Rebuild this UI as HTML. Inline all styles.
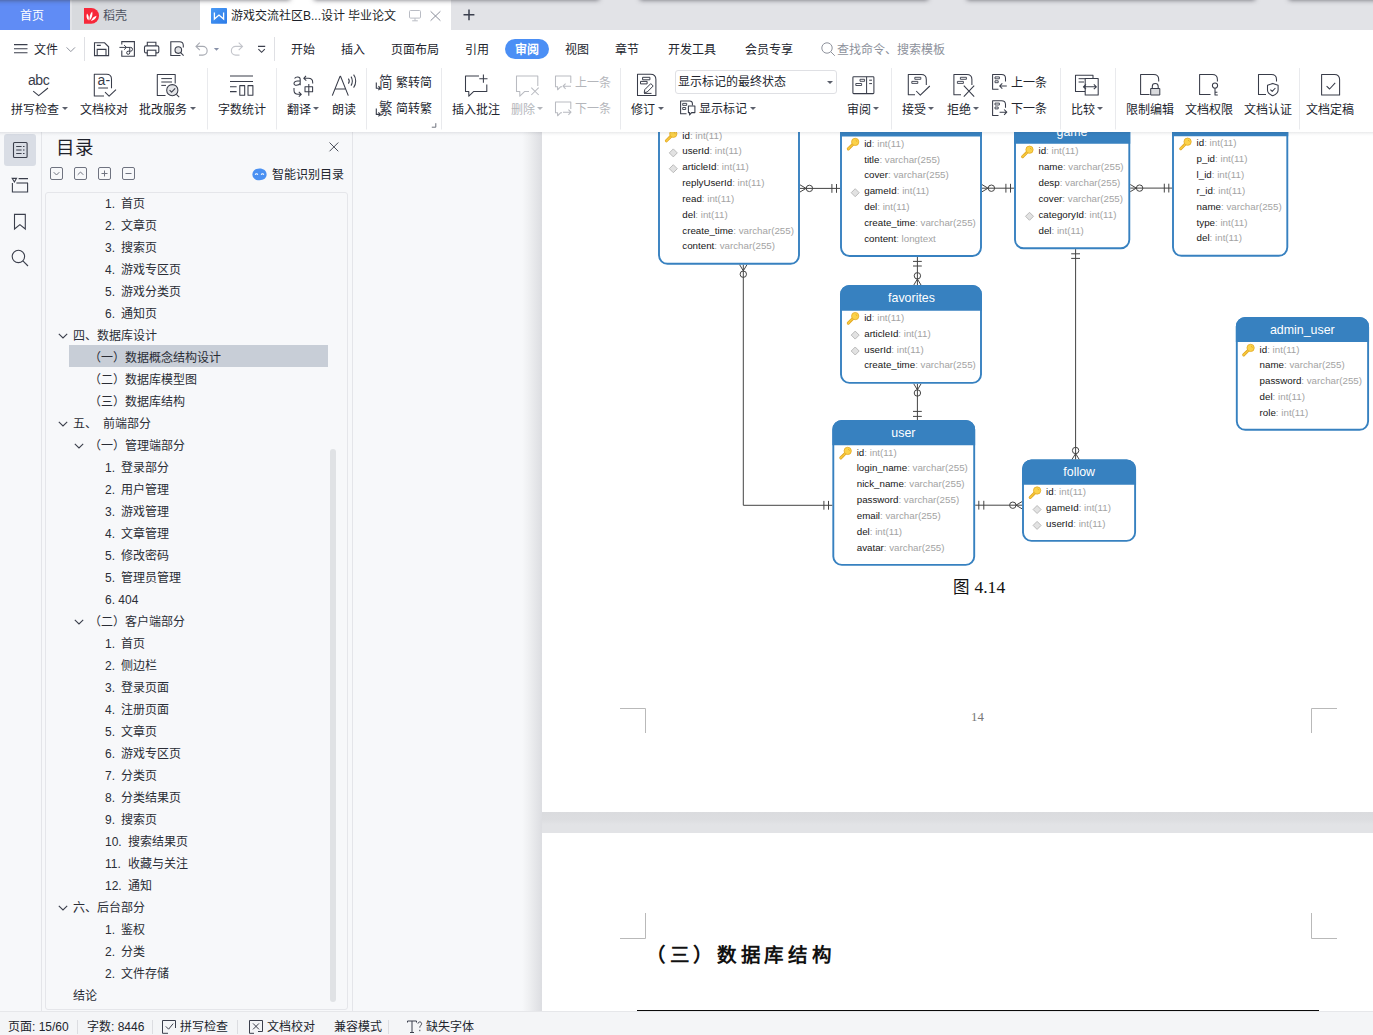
<!DOCTYPE html>
<html lang="zh-CN">
<head>
<meta charset="utf-8">
<title>WPS</title>
<style>
*{box-sizing:border-box;margin:0;padding:0}
html,body{width:1373px;height:1035px;overflow:hidden;background:#f7f8fa;font-family:"Liberation Sans",sans-serif;font-size:12px;color:#1e2330}
.abs{position:absolute}
svg{position:absolute;overflow:visible}
.t{position:absolute;white-space:nowrap;line-height:16px;font-size:12px;color:#22252e}
/* ---------- tab bar ---------- */
#tabbar{position:absolute;left:0;top:0;width:1373px;height:30px;background:#e2e3e7;overflow:hidden}
.shd{position:absolute;top:-12px;height:10px;background:#000;box-shadow:0 0 5px 2px rgba(60,60,70,.75)}
#tab-home{position:absolute;left:0;top:0;width:70px;height:30px;background:#608cf5;color:#fff;padding-right:6px;text-align:center;line-height:32px;font-size:12px}
#tab-dk{position:absolute;left:72px;top:0;width:128px;height:30px;background:#d8dade}
#tab-doc{position:absolute;left:200px;top:0;width:251px;height:30px;background:#fff}
/* ---------- menu + ribbon ---------- */
#menubar{position:absolute;left:0;top:30px;width:1373px;height:36px;background:#fff}
#ribbon{position:absolute;left:0;top:66px;width:1373px;height:66px;background:#fff}
#ribshadow{position:absolute;left:0;top:132px;width:1373px;height:4px;background:linear-gradient(rgba(40,45,60,.10),rgba(40,45,60,.03) 50%,rgba(40,45,60,0));z-index:50}
.vsep{position:absolute;width:1px;background:#e6e7ea}
.mi{position:absolute;top:12px;font-size:12px;line-height:16px;color:#22252e;white-space:nowrap}
.rl{position:absolute;font-size:12px;line-height:16px;color:#22252e;white-space:nowrap}
.dis{color:#b4b6bb}
.c{width:80px;text-align:center}
.dd{position:absolute;width:0;height:0;border-left:3px solid transparent;border-right:3px solid transparent;border-top:3px solid #5b5f6b}
/* ---------- sidebar ---------- */
#iconstrip{position:absolute;left:0;top:132px;width:41px;height:879px;background:#f7f8fa}
#toc{position:absolute;left:41px;top:132px;width:312px;height:879px;background:#f7f8fa;border-left:1px solid #e4e5e9;border-right:1px solid #e4e5e9}
#tocbox{position:absolute;left:45px;top:192px;width:303px;height:818px;border:1px solid #e5e6ea;border-radius:3px;background:#f7f8fa}
.ti{position:absolute;font-size:12px;line-height:16px;color:#2a2d36;white-space:nowrap}
/* ---------- document ---------- */
#docbg{position:absolute;left:354px;top:132px;width:1019px;height:879px;background:#f7f8fa}
#pgshadow{position:absolute;left:522px;top:132px;width:20px;height:879px;background:linear-gradient(90deg,#f7f8fa,#f0f1f3 30%,#e6e7ea 65%,#dcdde1)}
#page1{position:absolute;left:542px;top:132px;width:831px;height:680px;background:#fff}
#gap{position:absolute;left:542px;top:812px;width:831px;height:21px;background:linear-gradient(#dadbde,#dcdde0 35%,#e2e3e6 60%,#e2e3e6)}
#page2{position:absolute;left:542px;top:833px;width:831px;height:178px;background:#fff}
/* ---------- status ---------- */
#status{position:absolute;left:0;top:1011px;width:1373px;height:24px;background:#f4f5f7;border-top:1px solid #e6e7ea}
.st{position:absolute;top:7px;font-size:12px;line-height:16px;color:#22252e;white-space:nowrap}
/* ---------- ER diagram ---------- */
.f{position:absolute;font-size:9.75px;line-height:12px;white-space:nowrap;color:#161616;-webkit-text-stroke:0.05px #161616}
.tt{position:absolute;width:100px;text-align:center;font-size:12.4px;line-height:16px;color:#fff;white-space:nowrap}
.f i{font-style:normal;color:#a3a3a3;-webkit-text-stroke:0}
</style>
</head>
<body>
<!-- TAB BAR -->
<div id="tabbar">
  <div id="tab-home">首页</div>
  <div id="tab-dk">
    <svg style="left:12px;top:8px" width="15" height="16" viewBox="0 0 15 16"><path d="M0,0H7.2A7.85,7.85 0 0 1 7.2,15.7H0Z" fill="#f7283a"/><path d="M4.4,12.4C2.2,10.4 2.2,7.6 3,5.6C4.8,7.4 5.4,10 4.4,12.4ZM5.6,12.6C5,9 6.2,5.8 8.2,3.6C9,6.6 8,10.4 5.6,12.6ZM7,13C8,10.4 10,8.4 12.6,7.8C12,10.6 9.8,12.6 7,13Z" fill="#fff"/></svg>
    <div class="t" style="left:31px;top:8px;color:#4d5260">稻壳</div>
  </div>
  <div id="tab-doc">
    <svg style="left:11px;top:8px" width="16" height="16" viewBox="0 0 16 16"><defs><linearGradient id="wg" x1="0" y1="0" x2="1" y2="1"><stop offset="0" stop-color="#4a9af5"/><stop offset="1" stop-color="#2c7be8"/></linearGradient></defs><rect x="0" y="0" width="16" height="15.8" rx="0.8" fill="url(#wg)"/><path d="M3.4,4.4V11L8,7L12.6,11V4.4" fill="none" stroke="#fff" stroke-width="1.3" stroke-linejoin="miter"/></svg>
    <div class="t" style="left:31px;top:8px;color:#1c1f28">游戏交流社区B...设计 毕业论文</div>
    <svg style="left:209px;top:10px" width="12" height="12" viewBox="0 0 12 12"><rect x="0.5" y="0.5" width="11" height="7.6" rx="1" fill="none" stroke="#b9bcc4" stroke-width="1"/><path d="M6,8.2V10.6M3.2,10.8H8.8" stroke="#b9bcc4" stroke-width="1" fill="none"/></svg>
    <svg style="left:230px;top:11px" width="11" height="10" viewBox="0 0 11 10"><path d="M0.6,0.3L10.4,9.7M10.4,0.3L0.6,9.7" stroke="#8b8f9b" stroke-width="1" fill="none"/></svg>
  </div>
  <svg style="left:463px;top:9px" width="12" height="12" viewBox="0 0 12 12"><path d="M6,0.4V11.2M0.5,5.8H11.4" stroke="#3a3f4e" stroke-width="1.5" fill="none"/></svg>
  <div class="shd" style="left:-10px;width:298px"></div>
  <div class="shd" style="left:316px;width:281px"></div>
  <div class="shd" style="left:642px;width:284px"></div>
  <div class="shd" style="left:969px;width:284px"></div>
  <div class="shd" style="left:1291px;width:100px"></div>
</div>
<div id="menubar">
  <svg style="left:0;top:0" width="290" height="36" viewBox="0 30 290 36" fill="none" stroke="#3b3f4c" stroke-width="1.1">
    <path d="M14,44.6H27.5M14,48.7H27.5M14,52.8H27.5" stroke-width="1.1"/>
    <path d="M66.6,47.4L70.8,51.6L75,47.4" stroke="#8e929c" stroke-width="1"/>
    <path d="M84.5,37V61M274.5,37V61" stroke="#dfe0e4" stroke-width="1"/>
    <!-- save -->
    <path d="M94.5,42.8H104.6L108.6,46.8V55.6H94.5Z"/><path d="M96.8,45.4H100.8M97.2,55.6V49.4H106V55.6"/>
    <!-- export -->
    <path d="M121.8,44.6V41.6H134.4V56.3H121.8V50.4"/><path d="M119.4,47.4H126.4M124.1,45.1L126.5,47.4L124.1,49.7" stroke-width="1"/><path d="M126.4,47.4H130.6A1.9,1.9 0 0 1 130.6,51.2H128.2A1.55,1.55 0 1 0 129.75,52.75V47.4" stroke-width="1"/>
    <!-- print -->
    <path d="M147.3,45.8V42.3H155.9V45.8"/><rect x="144.5" y="45.9" width="14.3" height="7" rx="1.4"/><rect x="147.3" y="50.2" width="8.6" height="5.5" fill="#fff"/>
    <!-- preview -->
    <path d="M180.5,55.5H170.8V41.7H179.5C181.8,41.7 183.3,43.2 183.3,45.5V47.5"/><circle cx="178.3" cy="50.1" r="3.3" fill="#e3e4e7"/><path d="M180.7,52.6L183.6,55.6"/>
    <!-- undo / redo -->
    <path d="M199.8,42.6L196,46.4L199.8,50.2M196.2,46.4H202.8A4.35,4.35 0 0 1 202.8,55.1H199" stroke="#a7aab2"/>
    <path d="M213.9,47.9H219.1L216.5,50.7Z" fill="#8790a8" stroke="none"/>
    <path d="M238.7,42.6L242.5,46.4L238.7,50.2M242.3,46.4H235.7A4.35,4.35 0 0 0 235.7,55.1H239.5" stroke="#c3c5cb"/>
    <!-- customize -->
    <path d="M258,46.4H265.2M258.4,49.1L261.6,52.3L264.8,49.1" stroke-width="1.1"/>
  </svg>
  <div class="mi c" style="left:6px">文件</div>
  <div class="mi c" style="left:263px">开始</div>
  <div class="mi c" style="left:313px">插入</div>
  <div class="mi c" style="left:375px">页面布局</div>
  <div class="mi c" style="left:437px">引用</div>
  <div class="abs" style="left:505px;top:9px;width:44px;height:20px;border-radius:10px;background:#4b8ff5"></div>
  <div class="mi c" style="left:487px;color:#fff;font-weight:bold">审阅</div>
  <div class="mi c" style="left:537px">视图</div>
  <div class="mi c" style="left:587px">章节</div>
  <div class="mi c" style="left:652px">开发工具</div>
  <div class="mi c" style="left:729px">会员专享</div>
  <svg style="left:821px;top:12px" width="15" height="15" viewBox="0 0 15 15"><circle cx="6" cy="6" r="5.2" fill="none" stroke="#8f939d" stroke-width="1"/><path d="M9.8,9.8L13.8,13.8" stroke="#8f939d" stroke-width="1"/></svg>
  <div class="mi" style="left:837px;color:#8d919b">查找命令、搜索模板</div>
</div>
<div id="ribbon">
  <svg style="left:0;top:0" width="1373" height="65" viewBox="0 66 1373 65" fill="none" stroke="#383c49" stroke-width="1.05" stroke-linejoin="round">
    <g stroke="#e9eaed" stroke-width="1">
      <path d="M207.5,68V129.5M276.5,68V129.5M366.5,68V129.5M441.5,68V129.5M620.5,68V129.5M891.5,68V129.5M1060.5,68V129.5M1115.5,68V129.5M1299.5,68V129.5"/>
    </g>
    <!-- spell check -->
    <path d="M33.2,91.2L38.7,95.7L48,88"/>
    <!-- doc proof -->
    <path d="M104,96H94.3V74.3H106.5C109.8,74.3 111.5,76.5 111.5,79.3V88.3"/><path d="M98.3,88H108" stroke-width="1"/><path d="M105,92.2L109.1,96.2L116,89.6"/>
    <!-- batch service -->
    <path d="M165.5,95.5H157.3V74.5H175.2V83.4"/><path d="M161.3,78.6H172M161.3,82H172M161.3,85.4H166" stroke-width="1"/><circle cx="172.3" cy="90.2" r="5.6" fill="#e4e5e8"/><path d="M169.6,90.2L171.6,92.2L175.2,88.3M176.4,94.3L179.2,97.1"/>
    <!-- word count -->
    <path d="M230,75.9H253M230,81.5H253M230,86.7H236.6M230,91.6H236.6"/><rect x="239.8" y="85.6" width="4.9" height="9.6"/><rect x="248" y="85.6" width="4.9" height="9.6"/>
    <!-- translate -->
    <path d="M294.6,78.4C295.6,76.6 300.2,76 300.2,79.6V85.2M300.2,80.8C297.5,80.8 294,81.3 294,83.4C294,86 298.6,85.8 300.2,83.2"/>
    <path d="M305,86.7H312.6V91.7H305ZM308.8,84V95.8"/>
    <path d="M306,75.8L303.8,78.3L306.3,80.6M304,78.3H308.5C311,78.3 312.7,80.1 312.7,82.4V83.4"/>
    <path d="M294,88V90.3C294,92.6 295.7,94.3 298.2,94.3H301.2M298.8,91.9L301.3,94.3L298.8,96.7"/>
    <!-- read aloud -->
    <path d="M332.3,95.6L340,76.4H340.6L348.3,95.6M335,89H345.6" stroke-width="1.1"/>
    <path d="M348.4,78.6C349.4,80 349.4,82.2 348.4,83.6M351,76.6C352.8,79 352.8,83.2 351,85.6M353.6,74.6C356.4,78 356.4,84.2 353.6,87.6"/>
    <!-- trad/simp arrows -->
    <path d="M376.3,82.4V88.2H380.2M378.4,86.2L380.4,88.2L378.4,90.2M376.3,108.6V114.4H380.2M378.4,112.4L380.4,114.4L378.4,116.4" stroke-width="1.1"/>
    <path d="M431.8,127.2H435.8V123.2" stroke="#6d717c" stroke-width="1"/>
    <!-- insert comment -->
    <path d="M479,75.9H465.5V91.4H468.8V96.2L473.8,91.4H486.8V84.6"/><path d="M483.4,74.6V82.8M479.3,78.7H487.5"/>
    <!-- delete comment (disabled) -->
    <g stroke="#b9bbc1"><path d="M537.8,86V75.9H516.5V91.4H519.8V96.2L524.8,91.4H529"/><path d="M531.3,87.6L538.7,95M538.7,87.6L531.3,95"/></g>
    <!-- prev/next comment (disabled) -->
    <g stroke="#b9bbc1"><path d="M570.8,83V75.9H555.5V86.8H557.6V89.8L560.5,86.8H562"/><path d="M571,86.2H563M565.6,83.6L563,86.2L565.6,88.8"/>
    <path d="M570.8,109V101.9H555.5V112.8H557.6V115.8L560.5,112.8H562"/><path d="M563,112.2H571M568.4,109.6L571,112.2L568.4,114.8"/></g>
    <!-- track changes -->
    <path d="M637.5,74.3H650.5C654,74.3 655.9,76.6 655.9,79.6V95.4H637.5Z"/><rect x="642.6" y="77.3" width="7.3" height="2.5" stroke-width="1"/><rect x="640.5" y="81.4" width="6.6" height="2.5" stroke-width="1"/><path d="M644.2,92.6L644.8,89.6L650.8,83.6L653.2,86L647.2,92Z" stroke-width="1"/><path d="M644,93.4H651.5" stroke-width="1"/>
    <!-- show markup -->
    <path d="M686.5,113.8H680.6V101H689.6C691.4,101 692.4,102 692.4,103.6V105.4"/><rect x="682.7" y="103.4" width="4" height="2" stroke-width="0.9"/><rect x="682.7" y="107.5" width="3" height="2" stroke-width="0.9"/><path d="M688.4,105.9H694.9V112.6H691.6L689.6,115V112.6H688.4Z"/>
    <!-- review pane -->
    <rect x="852.9" y="76.8" width="21" height="16.8" rx="0.8"/><path d="M866.6,76.8V93.6M869.2,80.2H872M869.2,83.6H872" stroke-width="1"/><rect x="860" y="79.3" width="4.6" height="2" stroke-width="0.9"/><rect x="855.8" y="83.5" width="5.8" height="2" stroke-width="0.9"/>
    <!-- accept -->
    <path d="M915,94.8H908.3V74.4H921.2C924.6,74.4 926.3,76.5 926.3,79.4V85"/><rect x="914.8" y="77.3" width="6" height="2" stroke-width="0.9"/><rect x="911.8" y="81.4" width="6" height="2" stroke-width="0.9"/><path d="M916.2,91L920.3,95.1L929.8,86"/>
    <!-- reject -->
    <path d="M961,94.8H953.9V74.4H966.8C970.2,74.4 971.9,76.5 971.9,79.4V85"/><rect x="960.4" y="77.3" width="6" height="2" stroke-width="0.9"/><rect x="957.4" y="81.4" width="6" height="2" stroke-width="0.9"/><path d="M963.8,85.6L974.2,96.6M974.2,85.6L963.8,96.6"/>
    <!-- prev / next change -->
    <path d="M998.5,89.3H992.6V74.5H1001.5C1004,74.5 1005.5,76 1005.5,78.3V81.6"/><rect x="995" y="76.9" width="4.4" height="1.9" stroke-width="0.9"/><rect x="995" y="80.8" width="3.2" height="1.9" stroke-width="0.9"/><path d="M1006.8,86H999.6M1002.3,83.3L999.6,86L1002.3,88.7"/>
    <path d="M998.5,115.5H992.6V100.7H1001.5C1004,100.7 1005.5,102.2 1005.5,104.5V107.8"/><rect x="995" y="103.1" width="4.4" height="1.9" stroke-width="0.9"/><rect x="995" y="107" width="3.2" height="1.9" stroke-width="0.9"/><path d="M999.6,112.2H1006.8M1004.1,109.5L1006.8,112.2L1004.1,114.9"/>
    <!-- compare -->
    <path d="M1085.2,91.4H1075.5V75.3H1093V78.3"/><path d="M1078.6,78.7H1087.2M1078.6,82H1084" stroke-width="1"/><rect x="1085.2" y="78.4" width="13" height="16.5" fill="#fff"/><path d="M1083.6,86.8H1096.2M1086,84.4L1083.4,86.8L1086,89.2M1093.8,84.4L1096.4,86.8L1093.8,89.2"/>
    <!-- restrict edit -->
    <path d="M1149.5,94.4H1140.6V74.4H1153.6C1157,74.4 1158.7,76.5 1158.7,79.4V81.6"/><path d="M1152.3,88.4V86.4C1152.3,82.6 1158.2,82.6 1158.2,86.4V88.4"/><rect x="1150.7" y="88.5" width="9.1" height="6.5" fill="#d9dadd" stroke-width="1"/>
    <!-- doc permission -->
    <path d="M1210.5,94.4H1199.6V74.4H1212.3C1215.7,74.4 1217.4,76.5 1217.4,79.4V81.6"/><circle cx="1215" cy="85.6" r="2.6"/><path d="M1215,88.2V95H1217.8M1215,92.3H1217.4"/>
    <!-- doc certify -->
    <path d="M1266,94.4H1258.5V74.4H1271.4C1274.8,74.4 1276.5,76.5 1276.5,79.4V81.6"/><path d="M1272.8,83.4L1278.1,85.3V90C1278.1,92.8 1275.8,94.6 1272.8,95.8C1269.8,94.6 1267.5,92.8 1267.5,90V85.3Z" fill="#fff"/><path d="M1270.4,89.6L1272.2,91.4L1275.4,88"/>
    <!-- finalize -->
    <path d="M1321.6,74.4H1334.4C1337.8,74.4 1339.6,76.6 1339.6,79.6V94.9H1321.6Z"/><path d="M1326.6,86.1L1329.6,89L1335.2,82.9"/>
  </svg>
  <!-- text inside icons -->
  <div class="abs" style="left:28px;top:6px;font-size:14px;line-height:16px;color:#383c49;letter-spacing:-0.45px">abc</div>
  <div class="abs" style="left:97.5px;top:6px;font-size:14px;line-height:16px;color:#383c49;letter-spacing:0.3px">a-</div>
  <div class="abs" style="left:378.6px;top:9px;font-size:13.4px;line-height:14px;color:#383c49;transform:scale(1,1.2);transform-origin:0 0">简</div>
  <div class="abs" style="left:378.6px;top:35px;font-size:13.4px;line-height:14px;color:#383c49;transform:scale(1,1.2);transform-origin:0 0">繁</div>
  <!-- labels -->
  <div class="rl c" style="left:-5px;top:36px">拼写检查</div><div class="dd" style="left:62px;top:41px"></div>
  <div class="rl c" style="left:64px;top:36px">文档校对</div>
  <div class="rl c" style="left:123px;top:36px">批改服务</div><div class="dd" style="left:190px;top:41px"></div>
  <div class="rl c" style="left:202px;top:36px">字数统计</div>
  <div class="rl c" style="left:259px;top:36px">翻译</div><div class="dd" style="left:313px;top:41px"></div>
  <div class="rl c" style="left:304px;top:36px">朗读</div>
  <div class="rl" style="left:396px;top:9px">繁转简</div>
  <div class="rl" style="left:396px;top:35px">简转繁</div>
  <div class="rl c" style="left:436px;top:36px">插入批注</div>
  <div class="rl dis c" style="left:483px;top:36px">删除</div><div class="dd" style="left:537px;top:41px;border-top-color:#b4b6bb"></div>
  <div class="rl dis" style="left:575px;top:9px">上一条</div>
  <div class="rl dis" style="left:575px;top:35px">下一条</div>
  <div class="rl c" style="left:603px;top:36px">修订</div><div class="dd" style="left:658px;top:41px"></div>
  <div class="abs" style="left:675px;top:4px;width:162px;height:24px;border:1px solid #dfe0e4;border-radius:3px;background:#fff"></div>
  <div class="rl" style="left:678px;top:8px">显示标记的最终状态</div><div class="dd" style="left:827px;top:15px"></div>
  <div class="rl" style="left:699px;top:35px">显示标记</div><div class="dd" style="left:750px;top:41px"></div>
  <div class="rl c" style="left:819px;top:36px">审阅</div><div class="dd" style="left:873px;top:41px"></div>
  <div class="rl c" style="left:874px;top:36px">接受</div><div class="dd" style="left:928px;top:41px"></div>
  <div class="rl c" style="left:919px;top:36px">拒绝</div><div class="dd" style="left:973px;top:41px"></div>
  <div class="rl" style="left:1011px;top:9px">上一条</div>
  <div class="rl" style="left:1011px;top:35px">下一条</div>
  <div class="rl c" style="left:1043px;top:36px">比较</div><div class="dd" style="left:1097px;top:41px"></div>
  <div class="rl c" style="left:1110px;top:36px">限制编辑</div>
  <div class="rl c" style="left:1169px;top:36px">文档权限</div>
  <div class="rl c" style="left:1228px;top:36px">文档认证</div>
  <div class="rl c" style="left:1290px;top:36px">文档定稿</div>
</div>
<!-- SIDEBAR -->
<div id="iconstrip"></div>
<div id="toc"></div>
<div id="tocbox"></div>
<div class="abs" style="left:4px;top:134px;width:32px;height:32px;border-radius:3px;background:#d9dde5"></div>
<svg style="left:0;top:132px" width="42" height="150" viewBox="0 132 42 150" fill="none" stroke="#3b3f4c" stroke-width="1.1">
  <rect x="13.5" y="142.5" width="13.6" height="15" rx="1"/><path d="M16.2,146.5H21.6M23,146.5H24.5M16.2,150H21.6M23,150H24.5M16.2,153.5H21.6M23,153.5H24.5" stroke-width="1"/>
  <path d="M12.4,183V192H27.6V183M12.2,178.4H16.5L14.4,182ZM18.6,178.6H28"/><path d="M16.4,183H28" />
  <path d="M14.5,214.4H25.3V229L19.9,224.6L14.5,229Z"/>
  <circle cx="18.4" cy="256.4" r="6.2"/><path d="M22.9,260.9L28,266"/>
</svg>
<div class="abs" style="left:56px;top:135px;font-size:18.5px;line-height:26px;color:#1f222b">目录</div>
<svg style="left:329px;top:142px" width="10" height="10" viewBox="0 0 10 10"><path d="M0.5,0.5L9.3,9.3M9.3,0.5L0.5,9.3" stroke="#4a4e5a" stroke-width="1" fill="none"/></svg>
<svg style="left:49px;top:167px" width="90" height="14" viewBox="49 167 90 14" fill="none" stroke="#6f7380" stroke-width="1">
  <rect x="50.5" y="167.5" width="12" height="12" rx="1.5"/><path d="M53.7,172.2L56.5,175L59.3,172.2"/>
  <rect x="74.5" y="167.5" width="12" height="12" rx="1.5"/><path d="M77.7,174.8L80.5,172L83.3,174.8"/>
  <rect x="98.5" y="167.5" width="12" height="12" rx="1.5"/><path d="M101.5,173.5H107.5M104.5,170.5V176.5"/>
  <rect x="122.5" y="167.5" width="12" height="12" rx="1.5"/><path d="M125.5,173.5H131.5"/>
</svg>
<svg style="left:252px;top:168px" width="15" height="13" viewBox="0 0 15 13"><path d="M7.5,0.6C11.6,0.6 14.6,2.8 14.6,6.6C14.6,10 11.8,12.3 7.5,12.3C3.2,12.3 0.4,10 0.4,6.6C0.4,2.8 3.4,0.6 7.5,0.6Z" fill="#4a90f2"/><path d="M3.2,6.8C3.7,5.4 5.3,5.4 5.8,6.8M9.2,6.8C9.7,5.4 11.3,5.4 11.8,6.8" stroke="#fff" stroke-width="1.1" fill="none"/></svg>
<div class="ti" style="left:272px;top:167px;color:#22252e">智能识别目录</div>
<div class="abs" style="left:69px;top:345px;width:259px;height:22px;background:#c8ced7"></div>
<div class="abs" style="left:329.5px;top:449px;width:6.5px;height:553px;border-radius:3.5px;background:#e0e2e5"></div>
<div class="ti" style="left:105px;top:196px">1.</div>
<div class="ti" style="left:121.2px;top:196px">首页</div>
<div class="ti" style="left:105px;top:218px">2.</div>
<div class="ti" style="left:121.2px;top:218px">文章页</div>
<div class="ti" style="left:105px;top:240px">3.</div>
<div class="ti" style="left:121.2px;top:240px">搜索页</div>
<div class="ti" style="left:105px;top:262px">4.</div>
<div class="ti" style="left:121.2px;top:262px">游戏专区页</div>
<div class="ti" style="left:105px;top:284px">5.</div>
<div class="ti" style="left:121.2px;top:284px">游戏分类页</div>
<div class="ti" style="left:105px;top:306px">6.</div>
<div class="ti" style="left:121.2px;top:306px">通知页</div>
<div class="ti" style="left:73px;top:328px">四、数据库设计</div>
<div class="ti" style="left:89px;top:350px">（一）数据概念结构设计</div>
<div class="ti" style="left:89px;top:372px">（二）数据库模型图</div>
<div class="ti" style="left:89px;top:394px">（三）数据库结构</div>
<div class="ti" style="left:73px;top:416px">五、</div>
<div class="ti" style="left:103px;top:416px">前端部分</div>
<div class="ti" style="left:89px;top:438px">（一）管理端部分</div>
<div class="ti" style="left:105px;top:460px">1.</div>
<div class="ti" style="left:121.2px;top:460px">登录部分</div>
<div class="ti" style="left:105px;top:482px">2.</div>
<div class="ti" style="left:121.2px;top:482px">用户管理</div>
<div class="ti" style="left:105px;top:504px">3.</div>
<div class="ti" style="left:121.2px;top:504px">游戏管理</div>
<div class="ti" style="left:105px;top:526px">4.</div>
<div class="ti" style="left:121.2px;top:526px">文章管理</div>
<div class="ti" style="left:105px;top:548px">5.</div>
<div class="ti" style="left:121.2px;top:548px">修改密码</div>
<div class="ti" style="left:105px;top:570px">5.</div>
<div class="ti" style="left:121.2px;top:570px">管理员管理</div>
<div class="ti" style="left:105px;top:592px">6.</div>
<div class="ti" style="left:118.3px;top:592px">404</div>
<div class="ti" style="left:89px;top:614px">（二）客户端部分</div>
<div class="ti" style="left:105px;top:636px">1.</div>
<div class="ti" style="left:121.2px;top:636px">首页</div>
<div class="ti" style="left:105px;top:658px">2.</div>
<div class="ti" style="left:121.2px;top:658px">侧边栏</div>
<div class="ti" style="left:105px;top:680px">3.</div>
<div class="ti" style="left:121.2px;top:680px">登录页面</div>
<div class="ti" style="left:105px;top:702px">4.</div>
<div class="ti" style="left:121.2px;top:702px">注册页面</div>
<div class="ti" style="left:105px;top:724px">5.</div>
<div class="ti" style="left:121.2px;top:724px">文章页</div>
<div class="ti" style="left:105px;top:746px">6.</div>
<div class="ti" style="left:121.2px;top:746px">游戏专区页</div>
<div class="ti" style="left:105px;top:768px">7.</div>
<div class="ti" style="left:121.2px;top:768px">分类页</div>
<div class="ti" style="left:105px;top:790px">8.</div>
<div class="ti" style="left:121.2px;top:790px">分类结果页</div>
<div class="ti" style="left:105px;top:812px">9.</div>
<div class="ti" style="left:121.2px;top:812px">搜索页</div>
<div class="ti" style="left:105px;top:834px">10.</div>
<div class="ti" style="left:128.4px;top:834px">搜索结果页</div>
<div class="ti" style="left:105px;top:856px">11.</div>
<div class="ti" style="left:128.4px;top:856px">收藏与关注</div>
<div class="ti" style="left:105px;top:878px">12.</div>
<div class="ti" style="left:128.4px;top:878px">通知</div>
<div class="ti" style="left:73px;top:900px">六、后台部分</div>
<div class="ti" style="left:105px;top:922px">1.</div>
<div class="ti" style="left:121.2px;top:922px">鉴权</div>
<div class="ti" style="left:105px;top:944px">2.</div>
<div class="ti" style="left:121.2px;top:944px">分类</div>
<div class="ti" style="left:105px;top:966px">2.</div>
<div class="ti" style="left:121.2px;top:966px">文件存储</div>
<div class="ti" style="left:73px;top:988px">结论</div>
<svg style="left:0;top:0" width="100" height="1035" viewBox="0 0 100 1035"><path d="M58.8,333.8l4.2,4.2l4.2,-4.2M58.8,421.8l4.2,4.2l4.2,-4.2M74.8,443.8l4.2,4.2l4.2,-4.2M74.8,619.8l4.2,4.2l4.2,-4.2M58.8,905.8l4.2,4.2l4.2,-4.2" fill="none" stroke="#3b3f4c" stroke-width="1.1"/></svg>
<!-- DOC -->
<div id="docbg"></div>
<div id="pgshadow"></div>
<div id="page1"></div>
<div id="gap"></div>
<div id="page2"></div>
<div id="erd" class="abs" style="left:542px;top:132px;width:831px;height:680px;overflow:hidden">
<svg style="left:0;top:0" width="831" height="680" viewBox="542 132 831 680"><path d="M667.5,100H790.5A8.5,8.5 0 0 1 799,108.5V255.3A8.5,8.5 0 0 1 790.5,263.8H667.5A8.5,8.5 0 0 1 659,255.3V108.5A8.5,8.5 0 0 1 667.5,100Z" fill="#fff" stroke="#3781c0" stroke-width="1.9"/>
<path d="M658.05,104V108.5A9.45,9.45 0 0 1 667.5,99.05H790.5A9.45,9.45 0 0 1 799.95,108.5V104Z" fill="#3781c0"/>
<g transform="translate(673.3,133.8)"><path d="M-2,2.1L-6.9,7" stroke="#dfa320" stroke-width="3" stroke-linecap="round" fill="none"/><path d="M-2,2.1L-6.9,7" stroke="#f8ca3e" stroke-width="1.7" stroke-linecap="round" fill="none"/><path d="M-5.6,4.6L-4.4,5.8M-4.4,3.4L-3.2,4.6" stroke="#dfa320" stroke-width="0.5" fill="none"/><circle cx="0" cy="0" r="3.65" fill="#fbd24a" stroke="#e2a722" stroke-width="0.75"/><path d="M0.4,-1.7L2,-0.3" stroke="#e2a722" stroke-width="0.8" fill="none"/></g>
<path d="M669.3,152.9L673.3,148.9L677.3,152.9L673.3,156.9Z" fill="#e2e2e2" stroke="#b4b4b4" stroke-width="0.9"/>
<path d="M669.3,168.7L673.3,164.7L677.3,168.7L673.3,172.7Z" fill="#e2e2e2" stroke="#b4b4b4" stroke-width="0.9"/>
<path d="M849.5,100H972.5A8.5,8.5 0 0 1 981,108.5V247.5A8.5,8.5 0 0 1 972.5,256H849.5A8.5,8.5 0 0 1 841,247.5V108.5A8.5,8.5 0 0 1 849.5,100Z" fill="#fff" stroke="#3781c0" stroke-width="1.9"/>
<path d="M840.05,136.4V108.5A9.45,9.45 0 0 1 849.5,99.05H972.5A9.45,9.45 0 0 1 981.95,108.5V136.4Z" fill="#3781c0"/>
<g transform="translate(855.2,141.9)"><path d="M-2,2.1L-6.9,7" stroke="#dfa320" stroke-width="3" stroke-linecap="round" fill="none"/><path d="M-2,2.1L-6.9,7" stroke="#f8ca3e" stroke-width="1.7" stroke-linecap="round" fill="none"/><path d="M-5.6,4.6L-4.4,5.8M-4.4,3.4L-3.2,4.6" stroke="#dfa320" stroke-width="0.5" fill="none"/><circle cx="0" cy="0" r="3.65" fill="#fbd24a" stroke="#e2a722" stroke-width="0.75"/><path d="M0.4,-1.7L2,-0.3" stroke="#e2a722" stroke-width="0.8" fill="none"/></g>
<path d="M851.2,192.7L855.2,188.7L859.2,192.7L855.2,196.7Z" fill="#e2e2e2" stroke="#b4b4b4" stroke-width="0.9"/>
<path d="M1023.5,100H1120.8A8.5,8.5 0 0 1 1129.3,108.5V239.7A8.5,8.5 0 0 1 1120.8,248.2H1023.5A8.5,8.5 0 0 1 1015,239.7V108.5A8.5,8.5 0 0 1 1023.5,100Z" fill="#fff" stroke="#3781c0" stroke-width="1.9"/>
<path d="M1014.05,143.7V108.5A9.45,9.45 0 0 1 1023.5,99.05H1120.8A9.45,9.45 0 0 1 1130.25,108.5V143.7Z" fill="#3781c0"/>
<g transform="translate(1029.5,149.7)"><path d="M-2,2.1L-6.9,7" stroke="#dfa320" stroke-width="3" stroke-linecap="round" fill="none"/><path d="M-2,2.1L-6.9,7" stroke="#f8ca3e" stroke-width="1.7" stroke-linecap="round" fill="none"/><path d="M-5.6,4.6L-4.4,5.8M-4.4,3.4L-3.2,4.6" stroke="#dfa320" stroke-width="0.5" fill="none"/><circle cx="0" cy="0" r="3.65" fill="#fbd24a" stroke="#e2a722" stroke-width="0.75"/><path d="M0.4,-1.7L2,-0.3" stroke="#e2a722" stroke-width="0.8" fill="none"/></g>
<path d="M1025.5,216.3L1029.5,212.3L1033.5,216.3L1029.5,220.3Z" fill="#e2e2e2" stroke="#b4b4b4" stroke-width="0.9"/>
<path d="M1181.5,100H1278.8A8.5,8.5 0 0 1 1287.3,108.5V247.3A8.5,8.5 0 0 1 1278.8,255.8H1181.5A8.5,8.5 0 0 1 1173,247.3V108.5A8.5,8.5 0 0 1 1181.5,100Z" fill="#fff" stroke="#3781c0" stroke-width="1.9"/>
<path d="M1172.05,136.3V108.5A9.45,9.45 0 0 1 1181.5,99.05H1278.8A9.45,9.45 0 0 1 1288.25,108.5V136.3Z" fill="#3781c0"/>
<g transform="translate(1187.6,141.7)"><path d="M-2,2.1L-6.9,7" stroke="#dfa320" stroke-width="3" stroke-linecap="round" fill="none"/><path d="M-2,2.1L-6.9,7" stroke="#f8ca3e" stroke-width="1.7" stroke-linecap="round" fill="none"/><path d="M-5.6,4.6L-4.4,5.8M-4.4,3.4L-3.2,4.6" stroke="#dfa320" stroke-width="0.5" fill="none"/><circle cx="0" cy="0" r="3.65" fill="#fbd24a" stroke="#e2a722" stroke-width="0.75"/><path d="M0.4,-1.7L2,-0.3" stroke="#e2a722" stroke-width="0.8" fill="none"/></g>
<path d="M849.5,286H972.5A8.5,8.5 0 0 1 981,294.5V374.4A8.5,8.5 0 0 1 972.5,382.9H849.5A8.5,8.5 0 0 1 841,374.4V294.5A8.5,8.5 0 0 1 849.5,286Z" fill="#fff" stroke="#3781c0" stroke-width="1.9"/>
<path d="M840.05,310.8V294.5A9.45,9.45 0 0 1 849.5,285.05H972.5A9.45,9.45 0 0 1 981.95,294.5V310.8Z" fill="#3781c0"/>
<g transform="translate(855.2,316.1)"><path d="M-2,2.1L-6.9,7" stroke="#dfa320" stroke-width="3" stroke-linecap="round" fill="none"/><path d="M-2,2.1L-6.9,7" stroke="#f8ca3e" stroke-width="1.7" stroke-linecap="round" fill="none"/><path d="M-5.6,4.6L-4.4,5.8M-4.4,3.4L-3.2,4.6" stroke="#dfa320" stroke-width="0.5" fill="none"/><circle cx="0" cy="0" r="3.65" fill="#fbd24a" stroke="#e2a722" stroke-width="0.75"/><path d="M0.4,-1.7L2,-0.3" stroke="#e2a722" stroke-width="0.8" fill="none"/></g>
<path d="M851.2,335.1L855.2,331.1L859.2,335.1L855.2,339.1Z" fill="#e2e2e2" stroke="#b4b4b4" stroke-width="0.9"/>
<path d="M851.2,351.0L855.2,347.0L859.2,351.0L855.2,355.0Z" fill="#e2e2e2" stroke="#b4b4b4" stroke-width="0.9"/>
<path d="M841.8,421H965.7A8.5,8.5 0 0 1 974.2,429.5V556.4A8.5,8.5 0 0 1 965.7,564.9H841.8A8.5,8.5 0 0 1 833.3,556.4V429.5A8.5,8.5 0 0 1 841.8,421Z" fill="#fff" stroke="#3781c0" stroke-width="1.9"/>
<path d="M832.3499999999999,445.2V429.5A9.45,9.45 0 0 1 841.8,420.05H965.7A9.45,9.45 0 0 1 975.1500000000001,429.5V445.2Z" fill="#3781c0"/>
<g transform="translate(847.7,450.9)"><path d="M-2,2.1L-6.9,7" stroke="#dfa320" stroke-width="3" stroke-linecap="round" fill="none"/><path d="M-2,2.1L-6.9,7" stroke="#f8ca3e" stroke-width="1.7" stroke-linecap="round" fill="none"/><path d="M-5.6,4.6L-4.4,5.8M-4.4,3.4L-3.2,4.6" stroke="#dfa320" stroke-width="0.5" fill="none"/><circle cx="0" cy="0" r="3.65" fill="#fbd24a" stroke="#e2a722" stroke-width="0.75"/><path d="M0.4,-1.7L2,-0.3" stroke="#e2a722" stroke-width="0.8" fill="none"/></g>
<path d="M1031.5,460.4H1126.6A8.5,8.5 0 0 1 1135.1,468.9V532.4A8.5,8.5 0 0 1 1126.6,540.9H1031.5A8.5,8.5 0 0 1 1023,532.4V468.9A8.5,8.5 0 0 1 1031.5,460.4Z" fill="#fff" stroke="#3781c0" stroke-width="1.9"/>
<path d="M1022.05,484.7V468.9A9.45,9.45 0 0 1 1031.5,459.45H1126.6A9.45,9.45 0 0 1 1136.05,468.9V484.7Z" fill="#3781c0"/>
<g transform="translate(1037.1,490.5)"><path d="M-2,2.1L-6.9,7" stroke="#dfa320" stroke-width="3" stroke-linecap="round" fill="none"/><path d="M-2,2.1L-6.9,7" stroke="#f8ca3e" stroke-width="1.7" stroke-linecap="round" fill="none"/><path d="M-5.6,4.6L-4.4,5.8M-4.4,3.4L-3.2,4.6" stroke="#dfa320" stroke-width="0.5" fill="none"/><circle cx="0" cy="0" r="3.65" fill="#fbd24a" stroke="#e2a722" stroke-width="0.75"/><path d="M0.4,-1.7L2,-0.3" stroke="#e2a722" stroke-width="0.8" fill="none"/></g>
<path d="M1033.1,509.5L1037.1,505.5L1041.1,509.5L1037.1,513.5Z" fill="#e2e2e2" stroke="#b4b4b4" stroke-width="0.9"/>
<path d="M1033.1,525.4L1037.1,521.4L1041.1,525.4L1037.1,529.4Z" fill="#e2e2e2" stroke="#b4b4b4" stroke-width="0.9"/>
<path d="M1245.3,318H1359.6A8.5,8.5 0 0 1 1368.1,326.5V421.3A8.5,8.5 0 0 1 1359.6,429.8H1245.3A8.5,8.5 0 0 1 1236.8,421.3V326.5A8.5,8.5 0 0 1 1245.3,318Z" fill="#fff" stroke="#3781c0" stroke-width="1.9"/>
<path d="M1235.85,341.9V326.5A9.45,9.45 0 0 1 1245.3,317.05H1359.6A9.45,9.45 0 0 1 1369.05,326.5V341.9Z" fill="#3781c0"/>
<g transform="translate(1250.6,347.9)"><path d="M-2,2.1L-6.9,7" stroke="#dfa320" stroke-width="3" stroke-linecap="round" fill="none"/><path d="M-2,2.1L-6.9,7" stroke="#f8ca3e" stroke-width="1.7" stroke-linecap="round" fill="none"/><path d="M-5.6,4.6L-4.4,5.8M-4.4,3.4L-3.2,4.6" stroke="#dfa320" stroke-width="0.5" fill="none"/><circle cx="0" cy="0" r="3.65" fill="#fbd24a" stroke="#e2a722" stroke-width="0.75"/><path d="M0.4,-1.7L2,-0.3" stroke="#e2a722" stroke-width="0.8" fill="none"/></g>
<path d="M800,184.8L806,188.4L800,192.0M800,188.4H840M831.9,184.0V192.8M836.5,184.0V192.8M982,184.6L988,188.2L982,191.79999999999998M982,188.2H1014M1005.9,183.79999999999998V192.6M1010.5,183.79999999999998V192.6M1130.3,184.5L1136.3,188.1L1130.3,191.7M1130.3,188.1H1172M1164.3,183.7V192.5M1168.8,183.7V192.5M739.6999999999999,264.8L743.3,270.8L746.9,264.8M743.3,264.8V505.3H832.3M823.9,500.90000000000003V509.7M828.5,500.90000000000003V509.7M917.4,257V285M913.8,285L917.4,279L921.0,285M913.0,261.4H921.8M913.0,266H921.8M913.8,383.9L917.4,389.9L921.0,383.9M917.4,383.9V420M913.0,411.4H921.8M913.0,416.4H921.8M1075.6,249.2V459.4M1072.0,459.4L1075.6,453.6L1079.1999999999998,459.4M1071.1999999999998,253.8H1080.0M1071.1999999999998,258.4H1080.0M975.2,505.2H1022M1022,501.59999999999997L1016,505.2L1022,508.8M978.8,500.8V509.59999999999997M983.8,500.8V509.59999999999997" fill="none" stroke="#444" stroke-width="1"/>
<circle cx="809.4" cy="188.4" r="3.2" fill="none" stroke="#444" stroke-width="1"/>
<circle cx="991.4" cy="188.2" r="3.2" fill="none" stroke="#444" stroke-width="1"/>
<circle cx="1139.6" cy="188.1" r="3.2" fill="none" stroke="#444" stroke-width="1"/>
<circle cx="743.3" cy="274.2" r="3.2" fill="none" stroke="#444" stroke-width="1"/>
<circle cx="917.4" cy="275.8" r="3.2" fill="none" stroke="#444" stroke-width="1"/>
<circle cx="917.4" cy="393" r="3.2" fill="none" stroke="#444" stroke-width="1"/>
<circle cx="1075.6" cy="450.5" r="3.2" fill="none" stroke="#444" stroke-width="1"/>
<circle cx="1012.8" cy="505.2" r="3.2" fill="none" stroke="#444" stroke-width="1"/><g font-family="Liberation Sans, sans-serif" font-size="9.75" fill="#161616"><text x="682.3" y="139" textLength="39.94">id<tspan fill="#a3a3a3">: int(11)</tspan></text>
<text x="682.3" y="154" textLength="59.45">userId<tspan fill="#a3a3a3">: int(11)</tspan></text>
<text x="682.3" y="170" textLength="66.48">articleId<tspan fill="#a3a3a3">: int(11)</tspan></text>
<text x="682.3" y="186" textLength="82.20">replyUserId<tspan fill="#a3a3a3">: int(11)</tspan></text>
<text x="682.3" y="202" textLength="51.86">read<tspan fill="#a3a3a3">: int(11)</tspan></text>
<text x="682.3" y="218" textLength="45.36">del<tspan fill="#a3a3a3">: int(11)</tspan></text>
<text x="682.3" y="234" textLength="111.66">create_time<tspan fill="#a3a3a3">: varchar(255)</tspan></text>
<text x="682.3" y="249" textLength="92.69">content<tspan fill="#a3a3a3">: varchar(255)</tspan></text>
<text x="864.2" y="147" textLength="39.94">id<tspan fill="#a3a3a3">: int(11)</tspan></text>
<text x="864.2" y="163" textLength="75.89">title<tspan fill="#a3a3a3">: varchar(255)</tspan></text>
<text x="864.2" y="178" textLength="84.55">cover<tspan fill="#a3a3a3">: varchar(255)</tspan></text>
<text x="864.2" y="194" textLength="64.88">gameId<tspan fill="#a3a3a3">: int(11)</tspan></text>
<text x="864.2" y="210" textLength="45.36">del<tspan fill="#a3a3a3">: int(11)</tspan></text>
<text x="864.2" y="226" textLength="111.66">create_time<tspan fill="#a3a3a3">: varchar(255)</tspan></text>
<text x="864.2" y="242" textLength="71.56">content<tspan fill="#a3a3a3">: longtext</tspan></text>
<text x="1072.0" y="136" text-anchor="middle" font-size="12.4" fill="#fff" textLength="31.00">game</text>
<text x="1038.5" y="154" textLength="39.94">id<tspan fill="#a3a3a3">: int(11)</tspan></text>
<text x="1038.5" y="170" textLength="85.09">name<tspan fill="#a3a3a3">: varchar(255)</tspan></text>
<text x="1038.5" y="186" textLength="81.86">desp<tspan fill="#a3a3a3">: varchar(255)</tspan></text>
<text x="1038.5" y="202" textLength="84.55">cover<tspan fill="#a3a3a3">: varchar(255)</tspan></text>
<text x="1038.5" y="218" textLength="77.88">categoryId<tspan fill="#a3a3a3">: int(11)</tspan></text>
<text x="1038.5" y="234" textLength="45.36">del<tspan fill="#a3a3a3">: int(11)</tspan></text>
<text x="1196.6" y="146" textLength="39.94">id<tspan fill="#a3a3a3">: int(11)</tspan></text>
<text x="1196.6" y="162" textLength="50.78">p_id<tspan fill="#a3a3a3">: int(11)</tspan></text>
<text x="1196.6" y="178" textLength="47.53">l_id<tspan fill="#a3a3a3">: int(11)</tspan></text>
<text x="1196.6" y="194" textLength="48.61">r_id<tspan fill="#a3a3a3">: int(11)</tspan></text>
<text x="1196.6" y="210" textLength="85.09">name<tspan fill="#a3a3a3">: varchar(255)</tspan></text>
<text x="1196.6" y="226" textLength="50.78">type<tspan fill="#a3a3a3">: int(11)</tspan></text>
<text x="1196.6" y="241" textLength="45.36">del<tspan fill="#a3a3a3">: int(11)</tspan></text>
<text x="911.5" y="302" text-anchor="middle" font-size="12.4" fill="#fff" textLength="46.83">favorites</text>
<text x="864.2" y="321" textLength="39.94">id<tspan fill="#a3a3a3">: int(11)</tspan></text>
<text x="864.2" y="337" textLength="66.48">articleId<tspan fill="#a3a3a3">: int(11)</tspan></text>
<text x="864.2" y="353" textLength="59.45">userId<tspan fill="#a3a3a3">: int(11)</tspan></text>
<text x="864.2" y="368" textLength="111.66">create_time<tspan fill="#a3a3a3">: varchar(255)</tspan></text>
<text x="903.4" y="437" text-anchor="middle" font-size="12.4" fill="#fff" textLength="24.11">user</text>
<text x="856.7" y="456" textLength="39.94">id<tspan fill="#a3a3a3">: int(11)</tspan></text>
<text x="856.7" y="471" textLength="111.12">login_name<tspan fill="#a3a3a3">: varchar(255)</tspan></text>
<text x="856.7" y="487" textLength="107.86">nick_name<tspan fill="#a3a3a3">: varchar(255)</tspan></text>
<text x="856.7" y="503" textLength="102.44">password<tspan fill="#a3a3a3">: varchar(255)</tspan></text>
<text x="856.7" y="519" textLength="84.02">email<tspan fill="#a3a3a3">: varchar(255)</tspan></text>
<text x="856.7" y="535" textLength="45.36">del<tspan fill="#a3a3a3">: int(11)</tspan></text>
<text x="856.7" y="551" textLength="87.81">avatar<tspan fill="#a3a3a3">: varchar(255)</tspan></text>
<text x="1079.2" y="476" text-anchor="middle" font-size="12.4" fill="#fff" textLength="31.69">follow</text>
<text x="1046.1" y="495" textLength="39.94">id<tspan fill="#a3a3a3">: int(11)</tspan></text>
<text x="1046.1" y="511" textLength="64.88">gameId<tspan fill="#a3a3a3">: int(11)</tspan></text>
<text x="1046.1" y="527" textLength="59.45">userId<tspan fill="#a3a3a3">: int(11)</tspan></text>
<text x="1302.3" y="334" text-anchor="middle" font-size="12.4" fill="#fff" textLength="64.75">admin_user</text>
<text x="1259.6" y="353" textLength="39.94">id<tspan fill="#a3a3a3">: int(11)</tspan></text>
<text x="1259.6" y="368" textLength="85.09">name<tspan fill="#a3a3a3">: varchar(255)</tspan></text>
<text x="1259.6" y="384" textLength="102.44">password<tspan fill="#a3a3a3">: varchar(255)</tspan></text>
<text x="1259.6" y="400" textLength="45.36">del<tspan fill="#a3a3a3">: int(11)</tspan></text>
<text x="1259.6" y="416" textLength="48.61">role<tspan fill="#a3a3a3">: int(11)</tspan></text></g></svg>
<div class="abs" style="left:-542px;top:-132px;width:1373px;height:1035px">
<div class="abs" style="left:953px;top:576px;font-family:'Liberation Serif',serif;font-size:16.5px;line-height:22px;color:#111;white-space:nowrap">图<span style="font-size:17.6px"> 4.14</span></div>
<div class="abs" style="left:971px;top:709px;font-family:'Liberation Serif',serif;font-size:12.8px;line-height:16px;color:#777;white-space:nowrap">14</div>
</div></div>
<svg style="left:0;top:0" width="1373" height="1035" viewBox="0 0 1373 1035"><path d="M620,708.5H645.5V733M1337,708.5H1311.5V733M620,938.5H645.5V913M1337,938.5H1311.5V913" fill="none" stroke="#b9b9b9" stroke-width="1"/><path d="M637,1010.6H1319" stroke="#0a0a0a" stroke-width="1.2"/></svg>
<div class="abs" style="left:646px;top:943px;font-family:'Liberation Serif',serif;font-weight:bold;font-size:19.5px;line-height:26px;letter-spacing:3.7px;color:#111;white-space:nowrap">（三）数据库结构</div>
<!-- STATUS -->
<div id="status">
  <div class="st" style="left:8px">页面: 15/60</div>
  <div class="st" style="left:87px">字数: 8446</div>
  <div class="st" style="left:180px">拼写检查</div>
  <div class="st" style="left:267px">文档校对</div>
  <div class="st" style="left:334px">兼容模式</div>
  <div class="st" style="left:426px">缺失字体</div>
  <svg style="left:0;top:0" width="480" height="24" viewBox="0 1011 480 24" fill="none" stroke="#3b3f4c" stroke-width="1">
    <path d="M77.5,1019V1033M152.5,1019V1033M237.5,1019V1033M388.5,1019V1033" stroke="#dcdde1"/>
    <path d="M168,1032.3H162.5V1019.5H175.5V1027"/><path d="M165.8,1025.4L168.6,1028.2L173.2,1022.6"/>
    <path d="M254,1032.3H249.5V1019.5H262.5V1030.5H258"/><path d="M253,1022.4L259,1028.4M259,1022.4L253,1028.4"/>
    <path d="M407.5,1021.5V1020H416.5V1021.5M412,1020V1031.5M410,1031.5H414"/><path d="M418,1022.6C418,1020.4 421.6,1020.4 421.6,1022.6C421.6,1024.4 419.8,1024.6 419.8,1026.6M419.8,1028.8V1030.2" />
  </svg>
</div>
<div id="ribshadow"></div>
</body>
</html>
